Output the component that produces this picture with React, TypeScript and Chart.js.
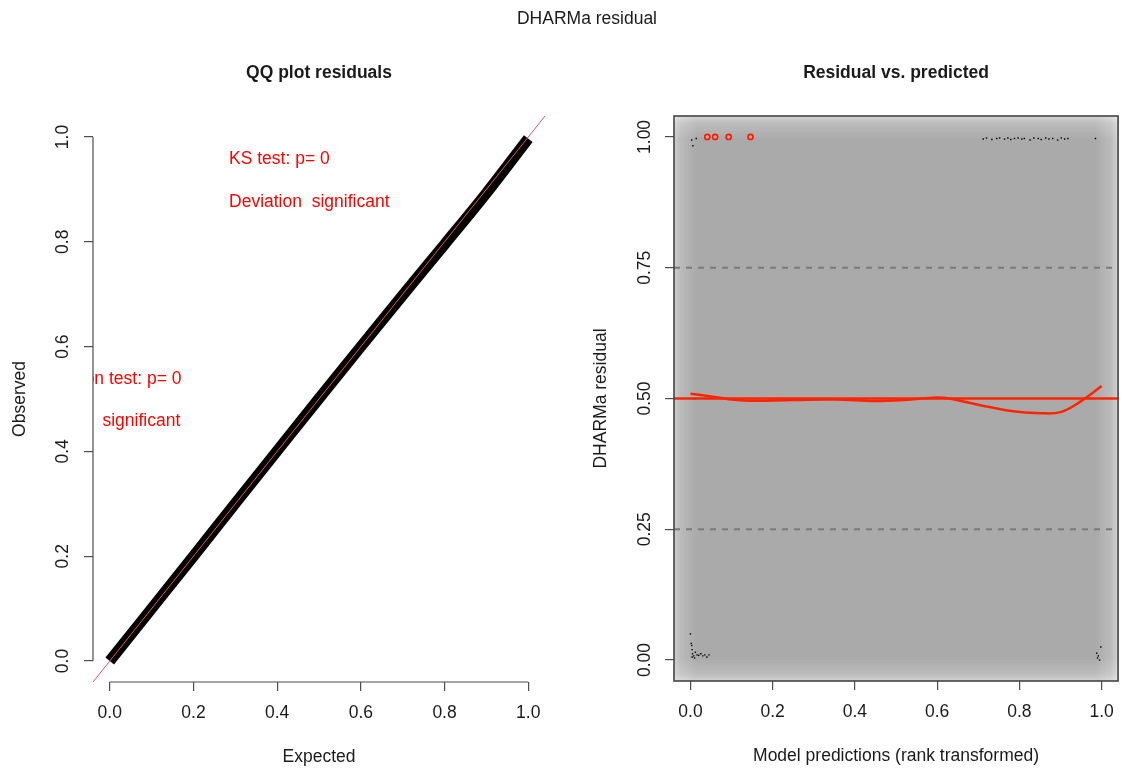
import React, { useEffect, useRef } from 'react';
import { Chart, registerables } from 'chart.js';

Chart.register(...registerables);

const FONT = '"Liberation Sans", Arial, Helvetica, sans-serif';
const FS = 17.5;
const AXIS_COLOR = '#4d4d4d';
const TEXT_COLOR = '#1a1a1a';

// ---------- overall ----------
const mainTitle = 'DHARMa residual';

// ---------- QQ panel ----------
const qqTitle = 'QQ plot residuals';
const qqXLabel = 'Expected';
const qqYLabel = 'Observed';
const qqExpected = [0, 0.1, 0.2, 0.3, 0.4, 0.5, 0.6, 0.7, 0.8, 0.9, 1.0];
const qqObserved = [0.0, 0.1, 0.2, 0.301, 0.401, 0.501, 0.6, 0.698, 0.795, 0.893, 0.997];
const qqTicks = [0, 0.2, 0.4, 0.6, 0.8, 1.0];
const ksLines = ['KS test: p= 0', 'Deviation  significant'];
const dispLines = ['Dispersion test: p= 0', 'Deviation  significant'];

// ---------- residual vs predicted panel ----------
const resTitle = 'Residual vs. predicted';
const resXLabel = 'Model predictions (rank transformed)';
const resYLabel = 'DHARMa residual';
const resXTicks = [0, 0.2, 0.4, 0.6, 0.8, 1.0];
const resYTicks = [0, 0.25, 0.5, 0.75, 1.0];
const quantileLevels = [0.25, 0.5, 0.75];
const medianLevel = 0.5;
const smoothX = [0, 0.05, 0.13, 0.25, 0.35, 0.45, 0.52, 0.6, 0.63, 0.7, 0.78, 0.85, 0.9, 0.95, 1.0];
const smoothY = [0.509, 0.504, 0.496, 0.497, 0.498, 0.495, 0.497, 0.502, 0.5, 0.488, 0.476, 0.472, 0.474, 0.495, 0.524];
const outlierX = [0.041, 0.06, 0.093, 0.146];
const outlierY = [1.0, 1.0, 1.0, 1.0];
const sparseX = [
  0.003, 0.014, 0.006,
  0.712, 0.72, 0.733, 0.745, 0.752, 0.764, 0.772, 0.779, 0.788, 0.797, 0.806, 0.812, 0.826, 0.835,
  0.846, 0.853, 0.864, 0.872, 0.881, 0.893, 0.902, 0.91, 0.918, 0.985,
  0.0, 0.002, 0.003, 0.004, 0.005, 0.008, 0.012, 0.016, 0.02, 0.025, 0.03, 0.035, 0.04, 0.004, 0.045, 0.01,
  0.998, 0.988, 0.99, 0.995, 0.992,
];
const sparseY = [
  0.994, 0.997, 0.983,
  0.996, 0.998, 0.995, 0.997, 0.998, 0.996, 0.998, 0.995, 0.997, 0.998, 0.996, 0.997, 0.994, 0.998,
  0.997, 0.995, 0.998, 0.996, 0.997, 0.994, 0.998, 0.996, 0.997, 0.997,
  0.05, 0.032, 0.028, 0.02, 0.012, 0.008, 0.015, 0.01, 0.009, 0.012, 0.008, 0.01, 0.006, 0.006, 0.01, 0.004,
  0.025, 0.013, 0.004, 0.0, 0.008,
];

const tickFont = { family: FONT, size: FS };

function axisOpts(ticksArr: number[], digits: number, fitSize: number, isY: boolean, pad: number) {
  return {
    type: 'linear',
    min: -0.04,
    max: 1.04,
    afterBuildTicks: (s: any) => {
      s.ticks = ticksArr.map((v) => ({ value: v }));
    },
    afterFit: (s: any) => {
      if (isY) s.width = fitSize;
      else s.height = fitSize;
    },
    grid: {
      display: true,
      drawOnChartArea: false,
      drawTicks: true,
      tickLength: 9,
      color: AXIS_COLOR,
      lineWidth: 1.2,
    },
    border: { display: false },
    ticks: {
      autoSkip: false,
      padding: pad,
      color: TEXT_COLOR,
      font: tickFont,
      minRotation: isY ? 90 : 0,
      maxRotation: isY ? 90 : 0,
      crossAlign: isY ? 'center' : 'near',
      callback: (v: any) => Number(v).toFixed(digits),
    },
  };
}

function drawTitles(chart: any, title: string, xLabel: string, yLabel: string) {
  const { ctx, chartArea: a } = chart;
  const cx = (a.left + a.right) / 2;
  const cy = (a.top + a.bottom) / 2;
  ctx.save();
  ctx.fillStyle = TEXT_COLOR;
  ctx.textAlign = 'center';
  ctx.textBaseline = 'middle';
  ctx.font = `bold ${FS}px ${FONT}`;
  ctx.fillText(title, cx, a.top - 43);
  ctx.font = `${FS}px ${FONT}`;
  ctx.fillText(xLabel, cx, a.bottom + 75);
  ctx.translate(a.left - 73, cy);
  ctx.rotate(-Math.PI / 2);
  ctx.fillText(yLabel, 0, 0);
  ctx.restore();
}

const qqPlugin = {
  id: 'qqDecor',
  afterDatasetsDraw(chart: any) {
    const { ctx, chartArea: a, scales } = chart;
    const x = scales.x;
    const y = scales.y;
    ctx.save();
    ctx.beginPath();
    ctx.rect(a.left, a.top, a.width, a.height);
    ctx.clip();
    // identity reference line across the plot region
    ctx.strokeStyle = '#DF536B';
    ctx.lineWidth = 1;
    ctx.beginPath();
    ctx.moveTo(x.getPixelForValue(x.min), y.getPixelForValue(x.min));
    ctx.lineTo(x.getPixelForValue(x.max), y.getPixelForValue(x.max));
    ctx.stroke();
    // test annotations
    ctx.fillStyle = '#ff0000';
    ctx.font = `${FS}px ${FONT}`;
    ctx.textAlign = 'left';
    ctx.textBaseline = 'middle';
    ctx.fillText(ksLines[0], x.getPixelForValue(0.285), y.getPixelForValue(0.958));
    ctx.fillText(ksLines[1], x.getPixelForValue(0.285), y.getPixelForValue(0.876));
    ctx.fillText(dispLines[0], x.getPixelForValue(-0.211), y.getPixelForValue(0.538));
    ctx.fillText(dispLines[1], x.getPixelForValue(-0.215), y.getPixelForValue(0.458));
    ctx.restore();
    // axis lines spanning the tick range
    ctx.save();
    ctx.strokeStyle = AXIS_COLOR;
    ctx.lineWidth = 1.2;
    ctx.beginPath();
    ctx.moveTo(a.left, y.getPixelForValue(qqTicks[0]));
    ctx.lineTo(a.left, y.getPixelForValue(qqTicks[qqTicks.length - 1]));
    ctx.moveTo(x.getPixelForValue(qqTicks[0]), a.bottom);
    ctx.lineTo(x.getPixelForValue(qqTicks[qqTicks.length - 1]), a.bottom);
    ctx.stroke();
    ctx.restore();
  },
  afterDraw(chart: any) {
    drawTitles(chart, qqTitle, qqXLabel, qqYLabel);
  },
};

const resPlugin = {
  id: 'resDecor',
  beforeDatasetsDraw(chart: any) {
    const { ctx, chartArea: a, scales } = chart;
    const x = scales.x;
    const y = scales.y;
    ctx.save();
    ctx.beginPath();
    ctx.rect(a.left, a.top, a.width, a.height);
    ctx.clip();
    // density image background (smoothScatter look)
    ctx.fillStyle = '#aaaaaa';
    ctx.fillRect(a.left, a.top, a.width, a.height);
    const fx = x.getPixelForValue(0.015) - x.getPixelForValue(x.min);
    const fy = y.getPixelForValue(y.min) - y.getPixelForValue(0.005);
    const fade = (x0: number, y0: number, x1: number, y1: number, alpha: number) => {
      const g = ctx.createLinearGradient(x0, y0, x1, y1);
      g.addColorStop(0, `rgba(255,255,255,${alpha})`);
      g.addColorStop(0.3, `rgba(255,255,255,${alpha * 0.45})`);
      g.addColorStop(1, 'rgba(255,255,255,0)');
      ctx.fillStyle = g;
      ctx.fillRect(a.left, a.top, a.width, a.height);
    };
    fade(a.left, 0, a.left + fx, 0, 0.42);
    fade(a.right, 0, a.right - fx, 0, 0.48);
    fade(0, a.top, 0, a.top + fy, 0.5);
    fade(0, a.bottom, 0, a.bottom - fy, 0.45);
    // quantile reference lines
    ctx.strokeStyle = '#7a7a7a';
    ctx.lineWidth = 2;
    ctx.setLineDash([6, 6]);
    quantileLevels.forEach((q) => {
      if (q === medianLevel) return;
      const py = y.getPixelForValue(q);
      ctx.beginPath();
      ctx.moveTo(a.left, py);
      ctx.lineTo(a.right, py);
      ctx.stroke();
    });
    ctx.setLineDash([]);
    ctx.strokeStyle = '#ff2400';
    ctx.lineWidth = 2.5;
    const pm = y.getPixelForValue(medianLevel);
    ctx.beginPath();
    ctx.moveTo(a.left, pm);
    ctx.lineTo(a.right, pm);
    ctx.stroke();
    ctx.restore();
  },
  afterDatasetsDraw(chart: any) {
    const { ctx, chartArea: a } = chart;
    ctx.save();
    ctx.strokeStyle = '#444';
    ctx.lineWidth = 1.6;
    ctx.strokeRect(a.left, a.top, a.width, a.height);
    ctx.restore();
  },
  afterDraw(chart: any) {
    drawTitles(chart, resTitle, resXLabel, resYLabel);
  },
};

function qqConfig(): any {
  return {
    type: 'line',
    data: {
      datasets: [
        {
          data: qqExpected.map((v, i) => ({ x: v, y: qqObserved[i] })),
          borderColor: '#000000',
          borderWidth: 11,
          borderCapStyle: 'butt',
          borderJoinStyle: 'round',
          pointRadius: 0,
          cubicInterpolationMode: 'monotone',
          fill: false,
        },
      ],
    },
    options: {
      animation: false,
      responsive: false,
      devicePixelRatio: 1,
      layout: { padding: { left: 0, right: 35, top: 116, bottom: 0 } },
      plugins: { legend: { display: false }, tooltip: { enabled: false } },
      scales: {
        x: axisOpts(qqTicks, 1, 87, false, 12),
        y: axisOpts(qqTicks, 1, 93, true, 9),
      },
    },
    plugins: [qqPlugin],
  };
}

function resConfig(): any {
  return {
    type: 'scatter',
    data: {
      datasets: [
        {
          type: 'line',
          data: smoothX.map((v, i) => ({ x: v, y: smoothY[i] })),
          borderColor: '#ff2400',
          borderWidth: 2.5,
          pointRadius: 0,
          tension: 0.4,
          fill: false,
          order: 1,
        },
        {
          data: sparseX.map((v, i) => ({ x: v, y: sparseY[i] })),
          pointStyle: 'rect',
          pointRadius: 1,
          backgroundColor: '#000000',
          borderColor: '#000000',
          borderWidth: 0,
          order: 2,
        },
        {
          data: outlierX.map((v, i) => ({ x: v, y: outlierY[i] })),
          pointStyle: 'circle',
          pointRadius: 2.6,
          backgroundColor: 'rgba(0,0,0,0)',
          borderColor: '#ff1a00',
          borderWidth: 1.6,
          order: 0,
        },
      ],
    },
    options: {
      animation: false,
      responsive: false,
      devicePixelRatio: 1,
      layout: { padding: { left: 0, right: 3, top: 116, bottom: 0 } },
      plugins: { legend: { display: false }, tooltip: { enabled: false } },
      scales: {
        x: axisOpts(resXTicks, 1, 88, false, 12),
        y: axisOpts(resYTicks, 2, 94, true, 3),
      },
    },
    plugins: [resPlugin],
  };
}

export default function App() {
  const leftRef = useRef<HTMLCanvasElement>(null);
  const rightRef = useRef<HTMLCanvasElement>(null);

  useEffect(() => {
    Chart.defaults.font.family = FONT;
    const c1 = new Chart(leftRef.current as HTMLCanvasElement, qqConfig());
    const c2 = new Chart(rightRef.current as HTMLCanvasElement, resConfig());
    return () => {
      c1.destroy();
      c2.destroy();
    };
  }, []);

  return (
    <div
      style={{
        position: 'fixed',
        left: 0,
        top: 0,
        width: 1126,
        height: 769,
        overflow: 'hidden',
        background: '#ffffff',
      }}
    >
      <canvas
        ref={leftRef}
        width={580}
        height={769}
        style={{ position: 'absolute', left: 0, top: 0, width: 580, height: 769 }}
      />
      <canvas
        ref={rightRef}
        width={546}
        height={769}
        style={{ position: 'absolute', left: 580, top: 0, width: 546, height: 769 }}
      />
      <div
        style={{
          position: 'absolute',
          left: 0,
          top: 8,
          width: 1174,
          textAlign: 'center',
          fontFamily: FONT,
          fontSize: FS,
          lineHeight: '21px',
          color: TEXT_COLOR,
        }}
      >
        {mainTitle}
      </div>
    </div>
  );
}
